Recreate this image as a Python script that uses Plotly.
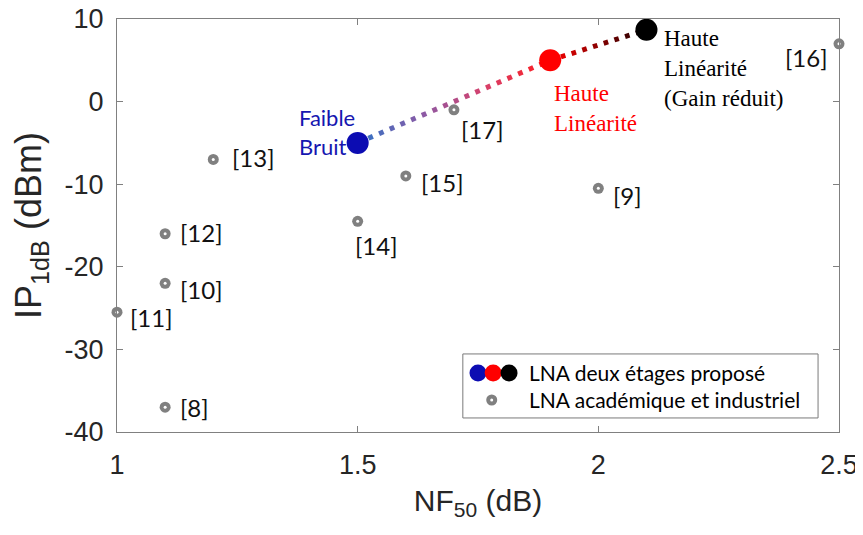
import plotly.graph_objects as go

# ---------------- data ----------------
ref_nf = [1.1, 2.0, 1.1, 1.0, 1.1, 1.2, 1.5, 1.6, 2.5, 1.7]
ref_ip = [-37, -10.5, -22, -25.5, -16, -7, -14.5, -9, 7, -1]
ref_labels = ["[8]", "[9]", "[10]", "[11]", "[12]", "[13]", "[14]", "[15]", "[16]", "[17]"]

prop_nf = [1.5, 1.9, 2.1]
prop_ip = [-5, 5, 8.7]
prop_names = ["Faible<br>Bruit", "Haute<br>Linéarité", "Haute<br>Linéarité<br>(Gain réduit)"]

x_ticks = [1, 1.5, 2, 2.5]
x_ticklabels = ["1", "1.5", "2", "2.5"]
y_ticks = [-40, -30, -20, -10, 0, 10]
y_ticklabels = ["-40", "-30", "-20", "-10", "0", "10"]

legend_names = ["LNA deux étages proposé", "LNA académique et industriel"]

# ---------------- style ----------------
prop_colors = ["#0c0cb2", "#ff0000", "#000000"]
label_colors = ["#1616b0", "#ff0000", "#000000"]
gray = "#808080"
axis_col = "#808080"
axis_family = "Liberation Sans, Arial, sans-serif"
tick_font = dict(family=axis_family, size=27, color="#262626")
lbl_font = "Lato, Carlito, Calibri, sans-serif"
serif = "Liberation Serif, Times New Roman, serif"

# gradient stops for the two dotted connecting segments
seg_stops = [
    ["#2f74c6", "#8a5aa6", "#d8406a", "#ff1a1a"],
    ["#ff0000", "#8a0000", "#150000"],
]
seg_dots = [18, 9]


def hex2rgb(h):
    h = h.lstrip("#")
    return [int(h[i:i + 2], 16) for i in (0, 2, 4)]


def interp_color(stops, t):
    n = len(stops) - 1
    pos = min(t * n, n - 1e-9)
    i = int(pos)
    f = pos - i
    a, b = hex2rgb(stops[i]), hex2rgb(stops[i + 1])
    c = [round(a[k] + (b[k] - a[k]) * f) for k in range(3)]
    return "rgb(%d,%d,%d)" % tuple(c)


fig = go.Figure()

# dotted gradient connector between proposed points
for s in range(len(prop_nf) - 1):
    x0, y0 = prop_nf[s], prop_ip[s]
    x1, y1 = prop_nf[s + 1], prop_ip[s + 1]
    n = seg_dots[s]
    for k in range(n):
        ta = k / n
        tb = ta + (5 / 12) / n
        col = interp_color(seg_stops[s], (ta + tb) / 2)
        fig.add_trace(go.Scatter(
            x=[x0 + (x1 - x0) * ta, x0 + (x1 - x0) * tb],
            y=[y0 + (y1 - y0) * ta, y0 + (y1 - y0) * tb],
            mode="lines", line=dict(color=col, width=5),
            hoverinfo="skip", showlegend=False, cliponaxis=False))

# reference LNAs
fig.add_trace(go.Scatter(
    x=ref_nf, y=ref_ip, mode="markers",
    marker=dict(size=11, color=gray, line=dict(width=0)),
    showlegend=False, cliponaxis=False, text=ref_labels))
fig.add_trace(go.Scatter(
    x=ref_nf, y=ref_ip, mode="markers",
    marker=dict(size=3, color="white", line=dict(width=0)),
    showlegend=False, cliponaxis=False, hoverinfo="skip"))

# proposed LNA
fig.add_trace(go.Scatter(
    x=prop_nf, y=prop_ip, mode="markers",
    marker=dict(size=22, color=prop_colors, line=dict(width=0)),
    showlegend=False, cliponaxis=False))

# reference labels
ref_shift = {
    "[8]": (13, 0, "left"), "[9]": (13, -7, "left"), "[10]": (13, -6, "left"),
    "[11]": (11, -5, "left"), "[12]": (13, 1, "left"), "[13]": (17, 2, "left"),
    "[14]": (-5, -24, "left"), "[15]": (13, -7, "left"), "[16]": (-9, -14, "right"),
    "[17]": (5, -20, "left"),
}
for x, y, t in zip(ref_nf, ref_ip, ref_labels):
    dx, dy, anc = ref_shift[t]
    fig.add_annotation(x=x, y=y, text=t, showarrow=False, xanchor=anc, yanchor="middle",
                       xshift=dx, yshift=dy, font=dict(family=lbl_font, size=24, color="#111111"))

# proposed labels
prop_shift = [(-61, 11), (2, -48), (16, -39)]
prop_fonts = [lbl_font, serif, serif]
for i in range(3):
    fig.add_annotation(x=prop_nf[i], y=prop_ip[i], text=prop_names[i], showarrow=False,
                       xanchor="left", yanchor="middle", align="left",
                       xshift=prop_shift[i][0], yshift=prop_shift[i][1],
                       font=dict(family=prop_fonts[i], size=22 if i == 0 else 23,
                                 color=label_colors[i]))

# manual legend box
fig.add_shape(type="rect", xref="paper", yref="paper", x0=0.479, x1=0.971, y0=0.034, y1=0.189,
              line=dict(color="#7a7a7a", width=1), fillcolor="white", layer="above")
leg_cx = [0.50, 0.521, 0.543]
for cx, col in zip(leg_cx, prop_colors):
    fig.add_shape(type="circle", xref="paper", yref="paper", xsizemode="pixel", ysizemode="pixel",
                  xanchor=cx, yanchor=0.143, x0=-8.5, x1=8.5, y0=-8.5, y1=8.5,
                  fillcolor=col, line=dict(width=0), layer="above")
fig.add_shape(type="circle", xref="paper", yref="paper", xsizemode="pixel", ysizemode="pixel",
              xanchor=0.519, yanchor=0.0775, x0=-5.5, x1=5.5, y0=-5.5, y1=5.5,
              fillcolor=gray, line=dict(width=0), layer="above")
fig.add_shape(type="circle", xref="paper", yref="paper", xsizemode="pixel", ysizemode="pixel",
              xanchor=0.519, yanchor=0.0775, x0=-1.5, x1=1.5, y0=-1.5, y1=1.5,
              fillcolor="white", line=dict(width=0), layer="above")
for name, yy in zip(legend_names, [0.143, 0.0775]):
    fig.add_annotation(xref="paper", yref="paper", x=0.568, y=yy, text=name, showarrow=False,
                       xanchor="left", yanchor="middle",
                       font=dict(family=lbl_font, size=21, color="#000000"))

# page body adds an 8px offset, so margins are reduced accordingly
fig.update_layout(
    width=863, height=535,
    margin=dict(l=109, r=32, t=11, b=111),
    paper_bgcolor="white", plot_bgcolor="white",
    showlegend=False,
    xaxis=dict(range=[1, 2.5], tickvals=x_ticks, ticktext=x_ticklabels, automargin=False,
               showgrid=False, zeroline=False, showline=True, linecolor=axis_col, linewidth=1,
               mirror="ticks", ticks="inside", ticklen=6, tickcolor=axis_col,
               tickfont=tick_font, ticklabelstandoff=9, ticklabeloverflow="allow",
               title=dict(text="NF<sub>50</sub> (dB)", standoff=10,
                          font=dict(family=axis_family, size=30, color="#262626"))),
    yaxis=dict(range=[-40, 10], tickvals=y_ticks, ticktext=y_ticklabels, automargin=False,
               showgrid=False, zeroline=False, showline=True, linecolor=axis_col, linewidth=1,
               mirror="ticks", ticks="inside", ticklen=6, tickcolor=axis_col,
               tickfont=tick_font, ticklabelstandoff=7, ticklabeloverflow="allow",
               title=dict(text="IP<sub>1dB</sub> (dBm)", standoff=20,
                          font=dict(family=axis_family, size=36, color="#262626"))),
)

fig.write_html("out.html")
